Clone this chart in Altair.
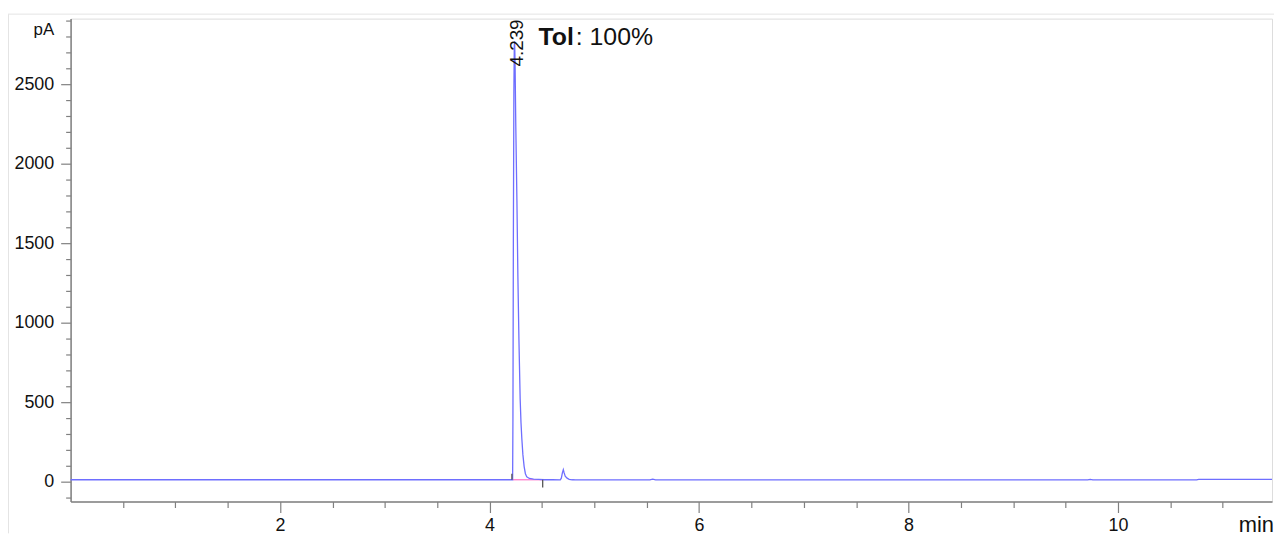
import altair as alt
import pandas as pd

# Chromatogram trace (time in min, signal in pA)
times = [0.0, 1.0, 2.0, 3.0, 4.0, 4.20, 4.220, 4.223, 4.227, 4.232, 4.236, 4.239,
         4.243, 4.250, 4.261, 4.270, 4.280, 4.292, 4.300, 4.308, 4.318, 4.330,
         4.342, 4.355, 4.38, 4.42, 4.47, 4.52, 4.60, 4.675, 4.685, 4.695, 4.704,
         4.712, 4.722, 4.74, 4.76, 4.79, 4.82, 5.0, 5.53, 5.558, 5.585, 6.0, 7.0,
         8.0, 9.0, 9.71, 9.735, 9.76, 10.0, 10.75, 10.77, 11.0, 11.47]
signal = [12, 12, 12, 12, 12, 12, 12, 400, 1500, 2450, 2740, 2770,
          2650, 2250, 1770, 1300, 900, 520, 370, 270, 170, 95,
          50, 30, 20, 16, 14, 12, 12, 11, 22, 55, 75,
          55, 35, 22, 15, 12, 11, 11, 11, 16, 11, 11, 11,
          11, 11, 11, 14, 11, 11, 11, 14, 14, 14]

# integration baseline of the main peak
base_t = [4.223, 4.507]
base_s = [12, 12]

# peak start / end markers
mark_t = [4.213, 4.507]
mark_y1 = [12, 12]
mark_y2 = [50, -37]

peak_label = ["4.239"]
peak_t = [4.239]
peak_s = [2759]

x_ticks = [i * 0.5 for i in range(1, 23)]
y_ticks = list(range(-100, 3000, 100))

trace_df = pd.DataFrame({"t": times, "s": signal})
base_df = pd.DataFrame({"t": base_t, "s": base_s})
mark_df = pd.DataFrame({"t": mark_t, "y1": mark_y1, "y2": mark_y2})
label_df = pd.DataFrame({"t": peak_t, "s": peak_s, "txt": peak_label})
tol_df = pd.DataFrame({"t": [4.467], "s": [2748]})

FONT = "Liberation Sans"
AX = "#808080"

xscale = alt.Scale(domain=[0, 11.47], nice=False, zero=False)
yscale = alt.Scale(domain=[-125, 2912.5], nice=False, zero=False)

x_axis = alt.Axis(
    values=x_ticks,
    labelExpr="datum.value % 2 === 0 ? format(datum.value, 'd') : ''",
    tickSize={"condition": {"test": "datum.value % 2 === 0", "value": 11}, "value": 6},
    labelPadding=4,
    labelFontSize=18,
    labelFont=FONT,
    labelColor="#111",
    labelOverlap=False,
    labelFlush=False,
    domainColor=AX,
    domainWidth=1.5,
    tickColor=AX,
    tickWidth=1.2,
    grid=False,
    title="min",
    titleFont=FONT,
    titleFontSize=22,
    titleFontWeight="normal",
    titleColor="#111",
    titleAnchor="start",
    titleAlign="left",
    titleX=1175,
    titleY=30,
    titleBaseline="alphabetic",
)

y_axis = alt.Axis(
    values=y_ticks,
    tickCount=100,
    labelExpr="datum.value % 500 === 0 ? datum.label : ''",
    tickSize={"condition": {"test": "datum.value % 500 === 0", "value": 10}, "value": 5},
    labelPadding=7,
    labelFontSize=18,
    labelFont=FONT,
    labelColor="#111",
    labelOverlap=False,
    labelFlush=False,
    domainColor=AX,
    domainWidth=1.5,
    tickColor=AX,
    tickWidth=1.2,
    grid=False,
    format="d",
    title="pA",
    titleFont=FONT,
    titleFontSize=17,
    titleFontWeight="normal",
    titleColor="#111",
    titleAngle=0,
    titleAlign="right",
    titleBaseline="alphabetic",
    titleX=-17,
    titleY=16,
)

trace = alt.Chart(trace_df).mark_line(color="#6e6eff", strokeWidth=1.3).encode(
    x=alt.X("t:Q", scale=xscale, axis=x_axis),
    y=alt.Y("s:Q", scale=yscale, axis=y_axis),
)

base = alt.Chart(base_df).mark_line(color="#ff70c8", strokeWidth=1.2).encode(
    x="t:Q", y="s:Q"
)

marks = alt.Chart(mark_df).mark_rule(color="#555555", strokeWidth=1.3).encode(
    x="t:Q", y="y1:Q", y2="y2:Q"
)

plabel = alt.Chart(label_df).mark_text(
    angle=270, align="center", baseline="middle", font=FONT, fontSize=19, color="#111", dy=2
).encode(x="t:Q", y="s:Q", text="txt:N")

tol_bold = alt.Chart(tol_df).mark_text(
    align="left", baseline="alphabetic", font=FONT, fontSize=25, fontWeight="bold", color="#111"
).encode(x="t:Q", y="s:Q", text=alt.value("Tol"))

tol_rest = alt.Chart(tol_df).mark_text(
    align="left", baseline="alphabetic", font=FONT, fontSize=25, color="#111", dx=37.5
).encode(x="t:Q", y="s:Q", text=alt.value(": 100%"))

frame_top = alt.Chart(tol_df).mark_rule(color="#e4e4e4", strokeWidth=1).encode(
    x=alt.value(-63), x2=alt.value(1211), y=alt.value(-4.5)
)
frame_left = alt.Chart(tol_df).mark_rule(color="#e4e4e4", strokeWidth=1).encode(
    x=alt.value(-62.5), y=alt.value(-4.5), y2=alt.value(518)
)

chart = alt.layer(
    frame_top, frame_left, base, trace, marks, plabel, tol_bold, tol_rest
).properties(
    width=1209,
    height=486,
    autosize=alt.AutoSizeParams(type="none"),
    padding={"left": 63, "top": 9, "right": 2, "bottom": 32},
).configure_view(stroke=None).configure(background="white")

chart.save("out.html", embed_options={"renderer": "svg", "actions": False})
